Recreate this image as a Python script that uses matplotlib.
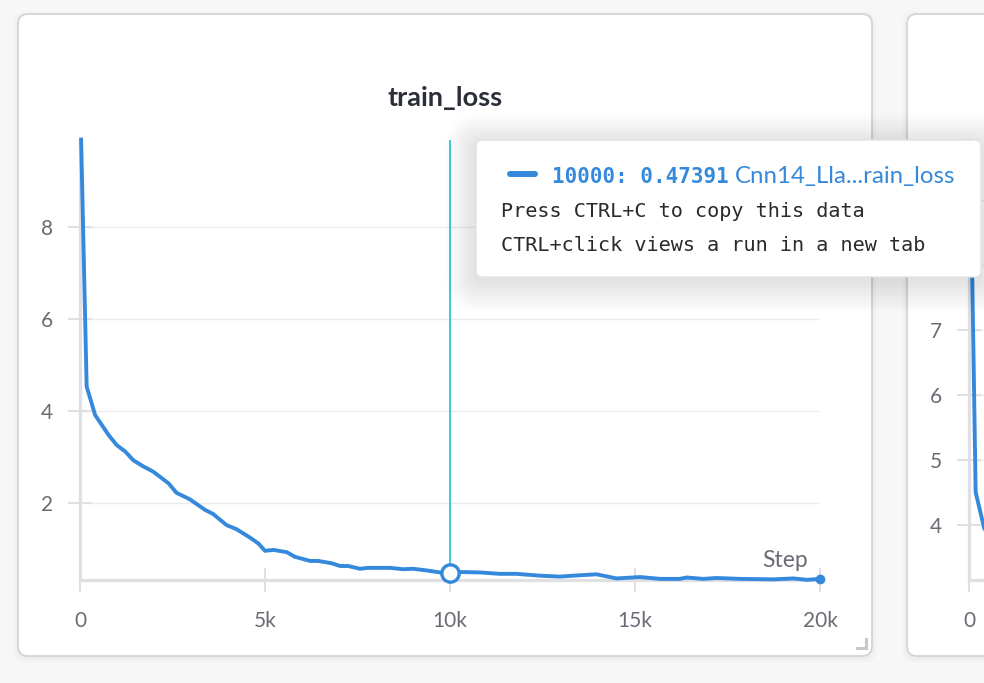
import matplotlib
matplotlib.use("Agg")
import matplotlib.pyplot as plt
from matplotlib.patches import FancyBboxPatch
from matplotlib.lines import Line2D

# ---------------- data ----------------
steps = [30, 180, 410, 770, 990, 1220, 1440, 1700, 1980, 2210, 2390, 2610, 2970,
         3380, 3600, 3960, 4230, 4590, 4820, 5000, 5230, 5590, 5810, 6220, 6440,
         6800, 7030, 7250, 7570, 7790, 8380, 8740, 9000, 9410, 9730, 10000,
         10300, 10810, 11350, 11800, 12430, 12970, 13330, 13960, 14500, 15140,
         15680, 16200, 16400, 16850, 17200, 17840, 18740, 19280, 19640, 20000]
loss = [9.9, 4.53, 3.91, 3.48, 3.26, 3.12, 2.93, 2.80, 2.68, 2.54, 2.43, 2.22, 2.08,
        1.85, 1.76, 1.52, 1.43, 1.25, 1.12, 0.96, 0.98, 0.93, 0.83, 0.74, 0.74,
        0.69, 0.63, 0.63, 0.57, 0.59, 0.59, 0.56, 0.57, 0.53, 0.49, 0.47391,
        0.50, 0.49, 0.46, 0.46, 0.42, 0.40, 0.42, 0.45, 0.36, 0.39,
        0.35, 0.35, 0.38, 0.35, 0.37, 0.35, 0.34, 0.36, 0.33, 0.35]
hover_step = 10000
hover_value = 0.47391

xticks = [0, 5000, 10000, 15000, 20000]
xticklabels = ["0", "5k", "10k", "15k", "20k"]
yticks = [2, 4, 6, 8]
yticklabels = ["2", "4", "6", "8"]

# second (partially visible) panel
steps2 = [30, 180, 410, 770, 990]
loss2 = [9.9, 4.5, 3.95, 3.6, 3.4]
xticks2 = [0]
xticklabels2 = ["0"]
yticks2 = [4, 5, 6, 7, 8, 9]
yticklabels2 = ["4", "5", "6", "7", "8", "9"]

title = "train_loss"
xlabel = "Step"
run_name = "Cnn14_Lla...rain_loss"
tip_line1 = "Press CTRL+C to copy this data"
tip_line2 = "CTRL+click views a run in a new tab"

# ---------------- style ----------------
W, H = 984, 683
BLUE = "#3589dc"
CYAN = "#3ccbdc"
AX_GRAY = "#e0e0e4"
GRID = "#ececef"
TICK_TXT = "#6b6b76"
DARK = "#2b2f38"
SANS = ["Lato", "DejaVu Sans"]
MONO = ["DejaVu Sans Mono"]

fig = plt.figure(figsize=(W / 100, H / 100), dpi=100, facecolor="#f7f7f8")

def frac(x0, y0, x1, y1):
    return [x0 / W, 1 - y1 / H, (x1 - x0) / W, (y1 - y0) / H]

# background overlay in pixel coords
bg = fig.add_axes([0, 0, 1, 1], zorder=0)
bg.set_xlim(0, W); bg.set_ylim(H, 0); bg.axis("off")
for (x0, w) in [(18, 854), (907, 300)]:
    for i in range(6):
        bg.add_patch(FancyBboxPatch((x0 - i, 14 - i + 2), w + 2 * i, 642 + 2 * i,
                                    boxstyle="round,pad=0,rounding_size=12",
                                    fc="black", ec="none", alpha=0.006))
    bg.add_patch(FancyBboxPatch((x0, 14), w, 642, boxstyle="round,pad=0,rounding_size=10",
                                fc="white", ec="#d4d4d9", lw=1.3))
bg.add_line(Line2D([857, 866], [648, 648], color="#c9c9cd", lw=2.2))
bg.add_line(Line2D([866, 866], [639, 648], color="#c9c9cd", lw=2.2))
bg.text(445, 106, title, ha="center", va="baseline", fontsize=19.5,
        fontweight="bold", color=DARK, family=SANS)

def style_axes(ax):
    ax.set_facecolor("none")
    for s in ["top", "right"]:
        ax.spines[s].set_visible(False)
    for s in ["left", "bottom"]:
        ax.spines[s].set_color(AX_GRAY)
        ax.spines[s].set_linewidth(2.3)
        ax.spines[s].set_zorder(1)
    ax.tick_params(direction="inout", length=17, width=1.4, color=AX_GRAY,
                   labelcolor=TICK_TXT, labelsize=15)
    ax.tick_params(axis="y", pad=11)
    ax.tick_params(axis="x", pad=14)
    for lab in ax.get_xticklabels() + ax.get_yticklabels():
        lab.set_family(SANS)
    ax.yaxis.grid(True, color=GRID, lw=1.0, zorder=0)
    ax.set_axisbelow(True)

# main plot
ax = fig.add_axes(frac(80, 140, 820, 580), zorder=1)
ax.set_xlim(0, 20000)
ax.set_ylim(0.326, 9.89)
ax.set_xticks(xticks)
ax.set_xticklabels(xticklabels)
ax.set_yticks(yticks)
ax.set_yticklabels(yticklabels)
style_axes(ax)
ax.axvline(hover_step, color=CYAN, lw=1.4, zorder=3)
ax.plot(steps, loss, color=BLUE, lw=2.8, solid_joinstyle="round", zorder=4, clip_on=False)
ax.plot([hover_step], [hover_value], marker="o", ms=12.5, mfc="white", mec=BLUE,
        mew=2.4, zorder=5, clip_on=False)
ax.plot([steps[-1]], [loss[-1]], marker="o", ms=6, color=BLUE, zorder=5, clip_on=False)
ax.text(0.984, 0.03, xlabel, transform=ax.transAxes, ha="right", va="baseline",
        fontsize=16.5, color=TICK_TXT, family=SANS)

# second panel (cut off at the right edge)
ax2 = fig.add_axes(frac(969, 140, 1709, 580), zorder=1)
ax2.set_xlim(0, 20000)
ax2.set_ylim(3.15, 9.92)
ax2.set_xticks(xticks2)
ax2.set_xticklabels(xticklabels2)
ax2.set_yticks(yticks2)
ax2.set_yticklabels(yticklabels2)
style_axes(ax2)
ax2.plot(steps2, loss2, color=BLUE, lw=2.8, zorder=4)

# tooltip overlay
ov = fig.add_axes([0, 0, 1, 1], zorder=5)
ov.set_facecolor("none")
ov.set_xlim(0, W); ov.set_ylim(H, 0); ov.axis("off")
for i in range(14):
    p = 2 + i * 2.2
    ov.add_patch(FancyBboxPatch((476 - p, 140 - p + 4), 505 + 2 * p, 137 + 2 * p,
                                boxstyle="round,pad=0,rounding_size=%g" % (6 + p),
                                fc="black", ec="none", alpha=0.008))
ov.add_patch(FancyBboxPatch((476, 140), 505, 137, boxstyle="round,pad=0,rounding_size=6",
                            fc="white", ec="#e2e2e6", lw=1.0))
ov.add_line(Line2D([510, 535], [174, 174], color=BLUE, lw=4.3, solid_capstyle="round"))
ov.text(552, 183, "%d: %.5f" % (hover_step, hover_value), ha="left", va="baseline",
        fontsize=15, fontweight="bold", color=BLUE, family=MONO)
ov.text(735, 183, run_name, ha="left", va="baseline", fontsize=17.3, color=BLUE, family=SANS)
ov.text(501, 217, tip_line1, ha="left", va="baseline", fontsize=14.5, color="#2a2a2a", family=MONO)
ov.text(501, 251, tip_line2, ha="left", va="baseline", fontsize=14.5, color="#2a2a2a", family=MONO)

fig.savefig("out.png", dpi=100, facecolor=fig.get_facecolor())
